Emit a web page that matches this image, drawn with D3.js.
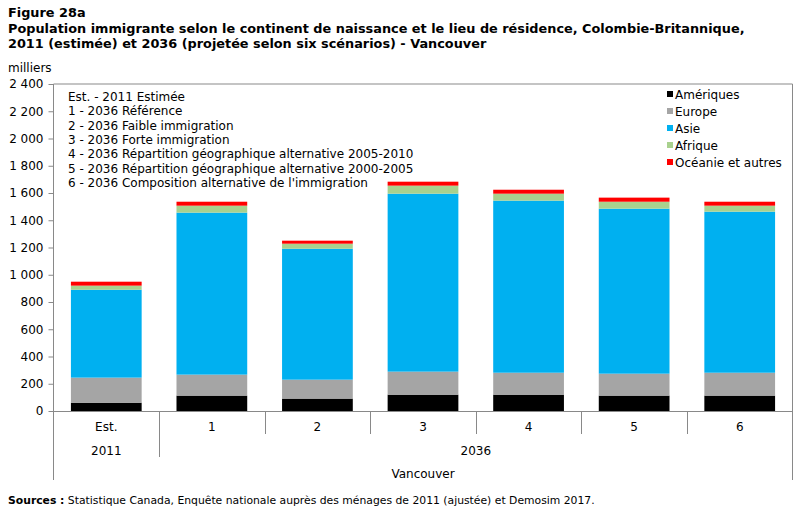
<!DOCTYPE html>
<html><head><meta charset="utf-8">
<script src="https://cdn.jsdelivr.net/npm/d3@7"></script>
<style>body{margin:0;background:#fff}svg{display:block;font-family:"DejaVu Sans",Verdana,sans-serif}</style>
</head><body><svg id="c" width="803" height="511"></svg>
<script>
const categories = ["Est.", "1", "2", "3", "4", "5", "6"];
const series = ["Amériques", "Europe", "Asie", "Afrique", "Océanie et autres"];
const ameriques = [61, 113, 91, 120, 120, 113, 113];
const europe    = [184, 154, 139, 169, 161, 161, 168];
const asie      = [645, 1189, 961, 1306, 1263, 1211, 1182];
const afrique   = [30, 51, 37, 59, 51, 51, 44];
const oceanie   = [29, 29, 22, 29, 29, 30, 29];
const yTicks = [0, 200, 400, 600, 800, 1000, 1200, 1400, 1600, 1800, 2000, 2200, 2400];
const scenarioNotes = [
  "Est. - 2011 Estimée",
  "1 - 2036 Référence",
  "2 - 2036 Faible immigration",
  "3 - 2036 Forte immigration",
  "4 - 2036 Répartition géographique alternative 2005-2010",
  "5 - 2036 Répartition géographique alternative 2000-2005",
  "6 - 2036 Composition alternative de l'immigration"
];
const colors = ["#000000", "#A5A5A5", "#00B0F0", "#A9D18E", "#FF0000"];

const svg = d3.select("#c");
const L = 53.5, R = 792.5, T = 84, B = 411;

const rows = categories.map((c, i) => ({cat: c,
  "Amériques": ameriques[i], "Europe": europe[i], "Asie": asie[i],
  "Afrique": afrique[i], "Océanie et autres": oceanie[i]}));
const stack = d3.stack().keys(series)(rows);

const x = d3.scaleBand().domain(categories).range([L, R]).paddingInner(0.33).paddingOuter(0.165);
const y = d3.scaleLinear().domain([0, 2400]).range([B, T]);
const fmt = d3.formatLocale({decimal: ",", thousands: " ", grouping: [3], currency: ["", ""]}).format(",d");

// title
const title = svg.append("g").attr("font-weight", "bold").attr("font-size", 12.85).attr("fill", "#000");
title.append("text").attr("x", 8).attr("y", 17).text("Figure 28a");
title.append("text").attr("x", 8).attr("y", 33).text("Population immigrante selon le continent de naissance et le lieu de résidence, Colombie-Britannique,");
title.append("text").attr("x", 8).attr("y", 48).text("2011 (estimée) et 2036 (projetée selon six scénarios) - Vancouver");
svg.append("text").attr("x", 8).attr("y", 72).attr("font-size", 12).text("milliers");

// bars
svg.append("g").selectAll("g").data(stack).join("g")
  .attr("fill", (d, i) => colors[i])
  .selectAll("rect").data(d => d).join("rect")
  .attr("x", d => x(d.data.cat))
  .attr("width", x.bandwidth())
  .attr("y", d => y(d[1]))
  .attr("height", d => y(d[0]) - y(d[1]));

// frame
const frame = "#898989";
svg.append("path").attr("d", `M${L},${T}H${R}V480`).attr("fill", "none").attr("stroke", frame);

// y axis
const ya = svg.append("g").attr("transform", `translate(${L},0)`)
  .call(d3.axisLeft(y).tickValues(yTicks).tickFormat(fmt).tickSize(5).tickPadding(5));
ya.select(".domain").remove();
ya.selectAll(".tick line").attr("stroke", frame);
ya.selectAll("text").attr("font-size", 12).attr("font-family", '"DejaVu Sans",Verdana,sans-serif').attr("fill", "#000");
svg.append("line").attr("x1", L).attr("x2", L).attr("y1", T).attr("y2", 480).attr("stroke", frame);

// x axis
const xa = svg.append("g").attr("transform", `translate(0,${B})`)
  .call(d3.axisBottom(x).tickSize(0).tickPadding(11));
xa.select(".domain").attr("stroke", frame).attr("d", `M${L},0.5H${R}`);
xa.selectAll("text").attr("font-size", 12).attr("font-family", '"DejaVu Sans",Verdana,sans-serif').attr("fill", "#000");
const step = x.step();
categories.forEach((c, i) => {
  if (i === 0) return;
  const bx = Math.round(x(c) - x.paddingInner() * step / 2) + 0.5;
  svg.append("line").attr("x1", bx).attr("x2", bx).attr("y1", B).attr("y2", i === 1 ? 457 : 434).attr("stroke", frame);
});
const x2011 = x("Est.") + x.bandwidth() / 2;
const x2036 = (x("1") + x("6") + x.bandwidth()) / 2;
svg.append("text").attr("x", x2011).attr("y", 455).attr("text-anchor", "middle").attr("font-size", 12).text("2011");
svg.append("text").attr("x", x2036).attr("y", 455).attr("text-anchor", "middle").attr("font-size", 12).text("2036");
svg.append("text").attr("x", (L + R) / 2).attr("y", 478).attr("text-anchor", "middle").attr("font-size", 12).text("Vancouver");

// notes box
svg.append("g").attr("font-size", 12).selectAll("text").data(scenarioNotes).join("text")
  .attr("x", 68).attr("y", (d, i) => 101 + i * 14.3).text(d => d);

// legend
const lg = svg.append("g").selectAll("g").data(series).join("g")
  .attr("transform", (d, i) => `translate(667,${94 + i * 17})`);
lg.append("rect").attr("x", 0).attr("y", -3).attr("width", 6).attr("height", 6).attr("fill", (d, i) => colors[i]);
lg.append("text").attr("x", 8).attr("y", 4.5).attr("font-size", 12).text(d => d);

// sources
const src = svg.append("text").attr("x", 8).attr("y", 504).attr("font-size", 10.8);
src.append("tspan").attr("font-weight", "bold").text("Sources :");
src.append("tspan").text(" Statistique Canada, Enquête nationale auprès des ménages de 2011 (ajustée) et Demosim 2017.");
</script></body></html>
